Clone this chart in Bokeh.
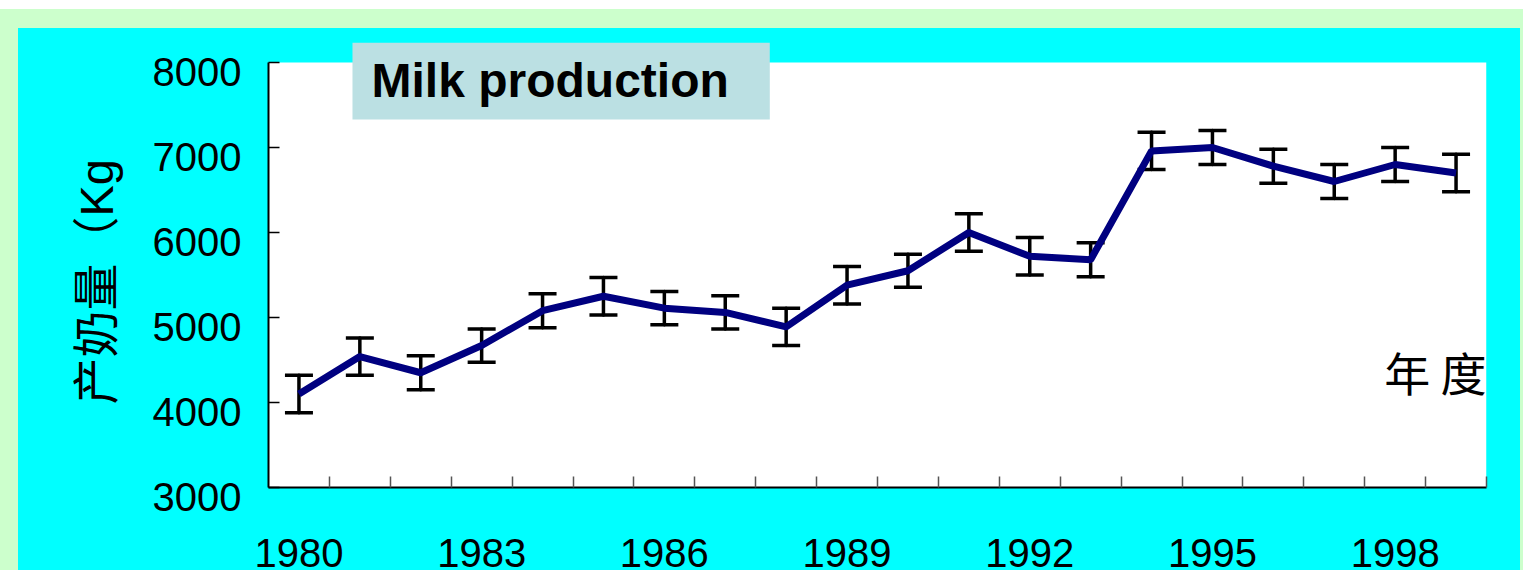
from bokeh.plotting import figure
from bokeh.models import (ColumnDataSource, Whisker, TeeHead, Label, FixedTicker,
                          Range1d, BoxAnnotation, Title)
from bokeh.layouts import column
from bokeh.core.properties import value
from bokeh.embed import file_html
from bokeh.resources import INLINE

# ---------------- data ----------------
years = [1980, 1981, 1982, 1983, 1984, 1985, 1986, 1987, 1988, 1989,
         1990, 1991, 1992, 1993, 1994, 1995, 1996, 1997, 1998, 1999]
milk = [4100, 4540, 4350, 4670, 5080, 5250, 5110, 5060, 4890, 5380,
        5550, 6000, 5720, 5680, 6960, 7000, 6780, 6600, 6800, 6700]
err = [220, 220, 200, 195, 200, 220, 195, 195, 220, 220,
       195, 220, 220, 200, 220, 200, 200, 200, 200, 220]
year_labels = [1980, 1983, 1986, 1989, 1992, 1995, 1998]
y_ticks = [3000, 4000, 5000, 6000, 7000, 8000]
title_text = "Milk production"
y_title = "产奶量（Kg"
x_title = "年 度"

src = ColumnDataSource(dict(
    x=years, y=milk,
    upper=[m + e for m, e in zip(milk, err)],
    lower=[m - e for m, e in zip(milk, err)],
))

LATIN = "Liberation Sans"
MIXED = "Liberation Sans, Noto Sans CJK SC"
CYAN = "#00FFFF"

Y_MIN, Y_MAX = 3000, 8000
Y_TOP = Y_MAX + 20 * (Y_MAX - Y_MIN) / 425   # room for the title box above 8000

p = figure(width=1502, height=542, output_backend="svg", toolbar_location=None,
           x_range=Range1d(years[0] - 0.5, years[-1] + 0.5),
           y_range=Range1d(Y_MIN, Y_TOP),
           min_border_left=250, min_border_right=34,
           min_border_top=14, min_border_bottom=83,
           styles={"background-color": CYAN})
p.background_fill_color = CYAN
p.border_fill_color = CYAN
p.outline_line_color = None
p.grid.visible = False

# white plot area: 3000..8000
p.add_layout(BoxAnnotation(top=Y_MAX, fill_color="white", fill_alpha=1,
                           line_color=None, level="underlay"))

# x axis: labels every third year at centres, ticks at category boundaries
p.xaxis.ticker = FixedTicker(ticks=year_labels,
                             minor_ticks=[y + 0.5 for y in years])
p.xaxis.major_tick_in = 0
p.xaxis.major_tick_out = 0
p.xaxis.minor_tick_in = 11
p.xaxis.minor_tick_out = 0
p.xaxis.minor_tick_line_color = "#555555"
p.xaxis.minor_tick_line_width = 1.5
p.xaxis.axis_line_color = "black"
p.xaxis.axis_line_width = 2
p.xaxis.major_label_text_font = LATIN
p.xaxis.major_label_text_font_size = "40px"
p.xaxis.major_label_text_color = "black"
p.xaxis.major_label_standoff = 51

# y axis (labels sit a little below their ticks, as in the original)
p.yaxis.ticker = FixedTicker(ticks=y_ticks, minor_ticks=[])
p.yaxis.bounds = (Y_MIN, Y_MAX)
p.yaxis.major_tick_in = 11
p.yaxis.major_tick_out = 0
p.yaxis.major_tick_line_color = "black"
p.yaxis.major_tick_line_width = 1.5
p.yaxis.axis_line_color = "black"
p.yaxis.axis_line_width = 2
p.yaxis.major_label_text_font = LATIN
p.yaxis.major_label_text_font_size = "40px"
p.yaxis.major_label_text_color = "black"
p.yaxis.major_label_standoff = 27
p.yaxis.major_label_overrides = {v: "\n" + str(v) for v in y_ticks}
p.yaxis.major_label_text_line_height = 0.45

# y title, placed from the bottom of the frame
p.add_layout(Title(text=y_title, align="left", offset=83, vertical_align="bottom",
                   standoff=54, text_font=MIXED, text_font_size="47px",
                   text_font_style="normal", text_color="black"), "left")

# data line and error bars
p.line("x", "y", source=src, line_color="#000080", line_width=7)
whisk = Whisker(base="x", upper="upper", lower="lower", source=src,
                line_color="black", line_width=3.5, line_cap="round",
                upper_head=TeeHead(size=28, line_color="black", line_width=3.5),
                lower_head=TeeHead(size=28, line_color="black", line_width=3.5))
p.add_layout(whisk)

# "年 度" inside the plot (clipped by the frame at right)
p.text(x=[1997.82], y=[4375], text=[x_title], text_font=value("Noto Sans CJK SC"),
       text_font_size="46px", text_align="left", text_baseline="middle",
       text_color="black")

# title box (padding: left, right, top, bottom)
title = Label(x=1980.879, y=Y_TOP, text=title_text, text_font=LATIN,
              text_font_size="48px", text_font_style="bold", text_color="black",
              text_align="left", text_baseline="top",
              background_fill_color="#BBE0E3", padding=(19, 41, 11, 13))
p.add_layout(title)

layout = column(p, styles={"background-color": "#CCFFCC",
                           "margin-top": "9px",
                           "padding-left": "18px", "padding-top": "19px",
                           "padding-right": "3px"})

open("out.html", "w").write(file_html(layout, INLINE))
